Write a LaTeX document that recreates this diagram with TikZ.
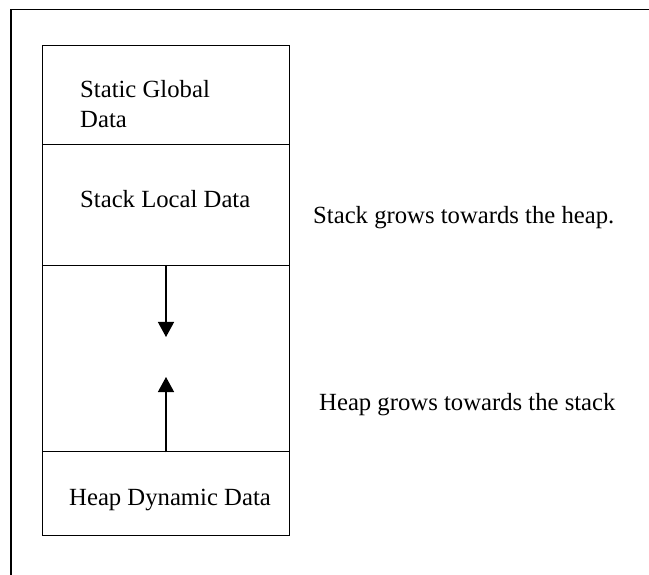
\documentclass[tikz,border=0pt]{standalone}
\usepackage{fontspec}
\setmainfont{Liberation Serif}
\usetikzlibrary{arrows.meta}
\begin{document}
\begin{tikzpicture}[x=1pt,y=-1pt,
  seg/.style={draw=black,line width=1.4pt,minimum width=247pt,inner sep=0pt,anchor=north west},
  lbl/.style={font=\fontsize{24.7}{29}\selectfont,inner sep=0pt,anchor=base west},
  growarrow/.style={-{Triangle[width=16pt,length=15pt]},line width=1.4pt}]
\useasboundingbox (0,0) rectangle (649,575);
\fill[white] (0,0) rectangle (649,575);
% outer frame (top and left edges)
\coordinate (ftr) at (649,9.5);
\coordinate (ftl) at (11,9.5);
\coordinate (fbl) at (11,575);
\draw[line width=1.6pt] (ftr) -- (ftl) -- (fbl);
% memory compartments
\node[seg,minimum height=99pt]  (static) at (42,45)  {};
\node[seg,minimum height=121pt] (stack)  at (42,144) {};
\node[seg,minimum height=186pt] (free)   at (42,265) {};
\node[seg,minimum height=84pt]  (heap)   at (42,451) {};
% labels
\node[lbl] (t1) at (80,98)  {Static Global};
\node[lbl] (t2) at (80,128) {Data};
\node[lbl] (t3) at (80,208) {Stack Local Data};
\node[lbl] (t4) at (69,505) {Heap Dynamic Data};
\node[lbl] (t5) at (313,224) {Stack grows towards the heap.};
\node[lbl] (t6) at (319,410) {Heap grows towards the stack};
% growth arrows
\coordinate (dn) at (166,337);
\coordinate (up) at (166,377);
\draw[growarrow] (free.north -| dn) -- (dn);
\draw[growarrow] (free.south -| up) -- (up);
\end{tikzpicture}
\end{document}
